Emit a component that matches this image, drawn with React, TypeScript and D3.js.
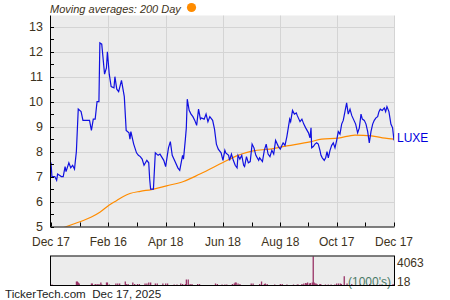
import React from "react";
import * as d3 from "d3";

const START = "2024-12-17";
const END = "2025-12-17";

const tickDates = ["2024-12-17", "2025-02-16", "2025-04-18", "2025-06-18", "2025-08-18", "2025-10-17", "2025-12-17"];
const tickLabels = ["Dec 17", "Feb 16", "Apr 18", "Jun 18", "Aug 18", "Oct 17", "Dec 17"];
const yTicks = [5, 6, 7, 8, 9, 10, 11, 12, 13];

// price: day offsets from START and closing values
const priceDays = [
  0, 1, 4, 6, 7, 9, 11, 13, 15, 16, 19, 21, 23, 25, 27, 29, 32, 34, 38, 41, 43, 45, 47, 49, 51, 52, 54, 57, 59, 60,
  62, 64, 67, 68, 70, 72, 75, 78, 80, 83, 84, 85, 88, 91, 93,
  95, 97, 99, 102, 104, 105, 106, 109, 111, 114, 116, 120, 122, 125, 127, 129, 132, 135, 137, 140, 141, 143, 144,
  145, 147, 149, 151, 153, 155, 157, 159, 160, 163, 165, 167, 169, 172, 174, 176, 178, 181, 183, 185,
  186, 189, 190, 192, 194, 196, 198, 199, 201, 203, 205, 206, 208, 210, 212, 214, 216, 218, 221, 222, 225, 227,
  229, 231, 233, 235, 237, 239, 242, 244, 247, 249, 251, 254, 255, 257, 259, 261, 262, 265, 267, 269, 271, 274,
  275.6, 276.7, 277.4, 279.1, 280.9, 282.7, 284.4, 286.2, 287.3, 288.7, 290.8, 292.3, 293.7, 295.1, 296.9, 298.7,
  300.4, 302.2, 304, 305.7, 307.5, 309.3, 311, 312.8, 314.6, 316.3, 318.2, 320, 322.4, 324.2, 326.3, 328.1, 329.9,
  331.3, 333.4, 335.2, 337, 338.7, 340.5, 342.3, 344, 345.8, 347.6, 349, 350.4, 352.5, 354.7, 356.1, 357.5, 359.6,
  361.7, 363.5, 365,
];
const priceValues = [
  7.56, 7.0, 7.0, 6.85, 7.1, 7.05, 7.0, 7.0, 7.4, 7.2, 7.55, 7.35, 7.45, 7.3, 8.0, 9.7, 9.6, 9.25, 9.25, 9.25, 8.85,
  9.3, 9.3, 10.0, 10.0, 12.35, 12.3, 11.1, 11.35, 12.0,
  11.1, 10.6, 10.55, 11.0, 10.5, 10.4, 10.85, 10.2, 8.85, 8.75, 8.5, 8.8, 8.3, 7.95, 7.85,
  7.8, 7.7, 7.45, 7.65, 7.55, 6.9, 6.5, 6.5, 7.95, 7.85, 7.9, 7.65, 7.4, 8.15, 8.4, 7.85, 7.6, 7.35, 7.25, 7.85,
  7.7, 8.5, 8.95,
  10.1, 9.65, 9.5, 9.4, 9.25, 9.05, 9.7, 9.3, 9.35, 9.3, 9.5, 9.2, 9.4, 9.25, 8.9, 8.3, 8.1, 7.95, 7.65, 8.05,
  7.95, 7.85, 7.65, 7.9, 7.65, 7.45, 7.35, 7.85, 7.7, 7.85, 7.45, 7.4, 7.8, 7.55, 7.6, 8.3, 8.15, 7.85, 7.65, 7.75,
  7.6, 8.05,
  8.3, 7.9, 7.8, 8.05, 7.9, 8.45, 8.2, 8.1, 8.35, 8.25, 8.6, 9.3, 9.2, 9.65, 9.5, 9.55, 9.45, 9.2, 9.3, 9.1, 8.95,
  8.75,
  8.55, 8.95, 8.15, 8.2, 8.3, 8.35, 8.3, 8.05, 7.85, 7.75, 7.65, 7.75, 8.0, 7.75, 8.05, 8.25,
  8.35, 8.15, 8.45, 8.8, 8.7, 9.1, 9.25, 9.6, 9.95, 9.5, 9.7, 9.45, 9.25, 9.1, 8.75, 8.95, 9.5,
  9.3, 9.25, 9.1, 8.8, 8.35, 8.8, 9.1, 9.25, 9.35, 9.4, 9.6, 9.7, 9.65, 9.75, 9.6, 9.8, 9.6,
  9.1, 8.95, 8.45,
];

// 200-day moving average
const maDays = [13, 24, 34.4, 43, 52, 62, 70, 77, 84, 95, 107, 123, 141, 158.5, 183, 197.6, 215, 233, 251, 275.6, 288, 305.7, 323.5, 341, 355.4, 365];
const maValues = [4.95, 5.1, 5.24, 5.38, 5.57, 5.86, 6.04, 6.2, 6.32, 6.41, 6.48, 6.63, 6.8, 7.1, 7.56, 7.83, 8.03, 8.1, 8.23, 8.39, 8.5, 8.54, 8.66, 8.63, 8.54, 8.5];

// volume (thousands)
const volDays = [
  1, 27, 28, 29, 30, 43, 44, 47, 49, 51, 53, 54, 59, 60, 62, 69, 71, 73, 79, 80, 82, 87, 89, 92, 94, 100, 102, 104,
  106, 111, 113, 119, 122, 124, 131, 134, 138, 140, 143, 144, 146, 148, 150, 156, 158, 175, 177, 182, 185, 187, 193,
  195, 196, 197, 199, 201, 213, 215, 222, 224, 227, 228, 230, 238, 244, 246, 251, 258, 262, 263, 267, 269, 271, 272,
  273, 275, 276, 278, 279, 280, 281, 282, 283, 286, 287, 292, 295, 298, 302, 304, 306, 308, 309, 312, 315, 320, 329,
  339, 350, 364,
];
const volValues = [
  140, 560, 560, 420, 280, 280, 280, 210, 210, 210, 420, 140, 420, 420, 140, 280, 280, 280, 560, 210, 210, 420, 210,
  210, 210, 280, 280, 420, 420, 280, 280, 280, 280, 280, 140, 140, 280, 210, 210, 840, 840, 210, 210, 210, 210, 280,
  210, 140, 140, 140, 210, 280, 420, 420, 280, 210, 280, 280, 210, 560, 210, 280, 210, 140, 210, 210, 140, 140, 140,
  140, 210, 280, 350, 280, 420, 280, 350, 420, 4063, 420, 280, 280, 210, 210, 210, 140, 140, 140, 140, 280, 280, 280,
  210, 1300, 280, 210, 210, 210, 140, 210,
];

const FONT = "'Liberation Sans', Arial, sans-serif";
const TEXT = "#3d3220";

export default function App() {
  const start = new Date(START + "T00:00:00");
  const end = new Date(END + "T00:00:00");
  const day = (d: number) => new Date(start.getTime() + d * 86400000);

  const left = 51, right = 394, top = 15.5, bottom = 226.5;
  const x = d3.scaleTime().domain([start, end]).range([left, right]);
  const y = d3.scaleLinear().domain([5, 13.45]).range([bottom, top]);
  const vTop = 256.5, vBottom = 285.5;
  const vy = d3.scaleLinear().domain([0, 4063]).range([vBottom, vTop]);

  const majors = tickDates.map((s) => new Date(s + "T00:00:00"));
  const minors = majors.slice(1).map((m, i) => new Date((m.getTime() + majors[i].getTime()) / 2));

  const priceLine = d3
    .line<number>()
    .x((_, i) => x(day(priceDays[i])))
    .y((v) => y(v));
  const maLine = d3
    .line<number>()
    .x((_, i) => x(day(maDays[i])))
    .y((v) => y(v))
    .curve(d3.curveMonotoneX);

  const halfTicks = d3.range(5, 13.01, 0.5);

  return (
    <svg width={450} height={300} style={{ position: "absolute", left: 0, top: 0 }} fontFamily={FONT}>
      <defs>
        <clipPath id="plotClip">
          <rect x={left} y={top} width={right - left} height={bottom - top} />
        </clipPath>
      </defs>
      <rect x={0} y={0} width={450} height={300} fill="#ffffff" />
      {/* header */}
      <text x={50} y={13} fontSize={11} fontStyle="italic" fill={TEXT}>
        Moving averages: 200 Day
      </text>
      <circle cx={191.5} cy={7.5} r={4.6} fill="#ff8c00" />

      {/* main plot */}
      <rect x={left} y={top} width={right - left} height={bottom - top} fill="#ececec" />
      {yTicks.slice(1).map((t) => (
        <line key={"gy" + t} x1={left} x2={right} y1={Math.round(y(t)) + 0.5} y2={Math.round(y(t)) + 0.5} stroke="#d4d4d4" strokeWidth={1} />
      ))}
      {majors.slice(1).map((m, i) => (
        <line key={"gx" + i} x1={Math.round(x(m)) + 0.5} x2={Math.round(x(m)) + 0.5} y1={top} y2={bottom} stroke="#d4d4d4" strokeWidth={1} />
      ))}
      <g clipPath="url(#plotClip)">
        <path d={maLine(maValues) || ""} fill="none" stroke="#ff8c00" strokeWidth={1.2} />
        <path d={priceLine(priceValues) || ""} fill="none" stroke="#1010e0" strokeWidth={1.2} />
      </g>
      {/* axes */}
      <line x1={left - 0.5} x2={left - 0.5} y1={top} y2={bottom + 0.5} stroke="#000" />
      <line x1={left - 1} x2={right + 0.5} y1={bottom + 0.5} y2={bottom + 0.5} stroke="#000" />
      {halfTicks.map((t) => (
        <line key={"yt" + t} x1={left} x2={left + 3} y1={Math.round(y(t)) + 0.5} y2={Math.round(y(t)) + 0.5} stroke="#000" />
      ))}
      {[...majors, ...minors].map((m, i) => (
        <line key={"xt" + i} x1={Math.round(x(m)) + 0.5} x2={Math.round(x(m)) + 0.5} y1={bottom - 4} y2={bottom} stroke="#000" />
      ))}
      {yTicks.map((t) => (
        <text key={"yl" + t} x={43} y={y(t) + 4.5} fontSize={12.5} textAnchor="end" fill={TEXT}>
          {t}
        </text>
      ))}
      {majors.map((m, i) => (
        <text key={"xl" + i} x={x(m)} y={246} fontSize={12} textAnchor="middle" fill={TEXT}>
          {tickLabels[i]}
        </text>
      ))}
      <text x={397} y={142} fontSize={12} fill="#0000dd">
        LUXE
      </text>

      {/* volume panel */}
      <rect x={left} y={vTop} width={right - left} height={vBottom - vTop} fill="#ececec" />
      {volValues.map((v, i) => {
        const vx = x(day(volDays[i]));
        return <rect key={"v" + i} x={vx - 0.6} y={vy(v)} width={1.3} height={vBottom - vy(v)} fill="#993366" />;
      })}
      <text x={348} y={286} fontSize={12} fill="#4a7a66">
        (1000's)
      </text>
      <rect x={left - 0.5} y={vTop - 0.5} width={right - left + 1} height={vBottom - vTop + 0.5} fill="none" stroke="#000" />
      <text x={397} y={267} fontSize={12} fill={TEXT}>
        4063
      </text>
      <text x={397} y={286} fontSize={12} fill={TEXT}>
        18
      </text>

      {/* footer */}
      <text x={5} y={298} fontSize={11.6} fill="#222" style={{ whiteSpace: "pre" }}>
        {"TickerTech.com  Dec 17, 2025"}
      </text>
    </svg>
  );
}
